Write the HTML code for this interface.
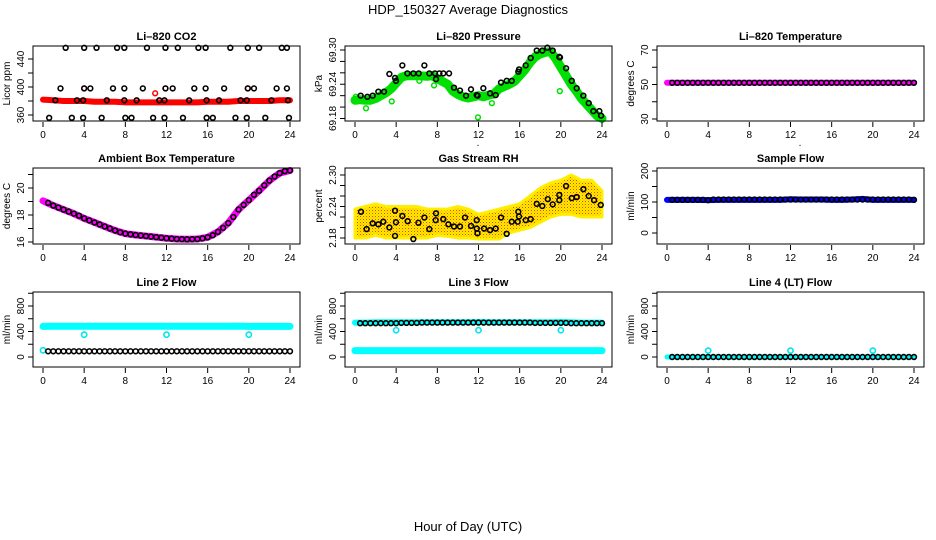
<!DOCTYPE html>
<html><head><meta charset="utf-8"><title>HDP_150327 Average Diagnostics</title>
<style>
html,body{margin:0;padding:0;background:#fff;}
svg{display:block;font-family:"Liberation Sans",Arial,sans-serif;}
</style></head>
<body>
<svg id="chart" width="936" height="540" viewBox="0 0 936 540" xmlns="http://www.w3.org/2000/svg">
<defs>
<pattern id="rhpat" width="3" height="3" patternUnits="userSpaceOnUse">
<rect width="3" height="3" fill="#ffee00"/>
<rect x="0" y="0" width="1" height="1" fill="#ff3a00"/>
<rect x="1.5" y="1.5" width="1" height="1" fill="#ff8a00"/>
</pattern>
</defs>
<text x="468" y="14" font-size="13" text-anchor="middle">HDP_150327  Average Diagnostics</text>
<text x="468" y="531" font-size="13" text-anchor="middle">Hour of Day (UTC)</text>
</svg>
<script>
// ---------- data ----------
const xTicks = [0,4,8,12,16,20,24];
const hours = [0,1,2,3,4,5,6,7,8,9,10,11,12,13,14,15,16,17,18,19,20,21,22,23,24];
const halfHours = [0.5,1,1.5,2,2.5,3,3.5,4,4.5,5,5.5,6,6.5,7,7.5,8,8.5,9,9.5,10,10.5,11,11.5,12,12.5,13,13.5,14,14.5,15,15.5,16,16.5,17,17.5,18,18.5,19,19.5,20,20.5,21,21.5,22,22.5,23,23.5,24];

// Li-820 CO2
const co2Band = [382,381,380,380,380,379,379,379,378,378,378,378,378,378,378,378,379,379,379,380,380,380,380,381,381];
const co2RedX = [4.0,11.9,19.9,10.9];
const co2RedY = [398,398,398,391];
const co2BlackX = [2.2,4.0,5.2,7.2,7.9,10.1,11.9,13.1,15.1,15.8,18.2,19.9,21.0,23.2,23.7,
  1.7,4.0,4.6,6.8,7.9,9.7,11.9,12.6,14.7,15.8,17.6,19.9,20.5,22.7,23.7,
  1.2,3.3,3.9,6.2,7.9,9.1,11.3,11.8,14.2,15.9,17.1,19.2,19.8,22.2,23.8,
  0.6,2.8,3.9,5.7,8.0,8.6,10.7,11.8,13.6,15.9,16.5,18.7,19.8,21.6,23.9];
const co2BlackY = [456,456,456,456,456,456,456,456,456,456,456,456,456,456,456,
  398,398,398,398,398,398,398,398,398,398,398,398,398,398,398,
  381,381,381,381,381,381,381,381,381,381,381,381,381,381,381,
  356,356,356,356,356,356,356,356,356,356,356,356,356,356,356];
const co2Ticks = [360,380,400,420,440];
const co2Labels = ["360","400","440"];

// Li-820 Pressure
const prGreenX = [0,0.5,1,1.5,2,2.5,3,3.5,4,4.5,5,6,7,7.5,8,8.5,9,9.5,10,10.5,11,11.5,12,12.5,13,13.5,14,14.5,15,15.5,16,16.5,17,17.5,18,18.5,19,19.5,20,20.5,21,21.5,22,22.5,23,23.5,24];
const prGreenY = [69.212,69.213,69.212,69.212,69.215,69.220,69.225,69.232,69.242,69.252,69.255,69.255,69.254,69.255,69.250,69.245,69.240,69.228,69.222,69.218,69.216,69.218,69.220,69.218,69.221,69.223,69.232,69.236,69.240,69.245,69.255,69.265,69.278,69.288,69.293,69.296,69.297,69.285,69.270,69.255,69.240,69.228,69.215,69.205,69.195,69.185,69.180];
const prGreenOutX = [3.57,6.25,7.68,11.95,13.3,19.9,0.07,1.07];
const prGreenOutY = [69.210,69.246,69.238,69.182,69.207,69.228,69.218,69.198];
const prBlackX = [0.55,1.20,1.72,2.27,2.82,3.34,3.89,3.98,4.60,5.09,5.67,6.19,6.74,7.22,7.77,7.87,8.20,8.58,9.14,9.62,10.20,10.79,11.27,11.83,11.92,12.47,13.12,13.67,14.19,14.74,15.23,15.87,15.94,16.59,17.07,17.66,18.20,18.69,19.21,19.85,19.92,20.51,21.06,21.54,22.19,22.71,23.16,23.74,23.91];
const prBlackY = [69.220,69.218,69.220,69.227,69.227,69.258,69.251,69.246,69.273,69.259,69.259,69.259,69.273,69.259,69.259,69.249,69.259,69.259,69.259,69.234,69.229,69.220,69.231,69.221,69.220,69.233,69.224,69.221,69.243,69.246,69.246,69.262,69.266,69.273,69.286,69.299,69.299,69.304,69.299,69.288,69.287,69.268,69.246,69.233,69.220,69.207,69.193,69.193,69.185];
const prTicks = [69.18,69.20,69.22,69.24,69.26,69.28,69.30];
const prLabels = ["69.18","69.24","69.30"];

// Li-820 Temperature
const ltBand = [51,51,51,51,51,51,51,51,51,51,51,51,51,51,51,51,51,51,51,51,51,51,51,51,51];
const ltBlack = [51,51,51,51,51,51,51,51,51,51,51,51,51,51,51,51,51,51,51,51,51,51,51,51,51,51,51,51,51,51,51,51,51,51,51,51,51,51,51,51,51,51,51,51,51,51,51,51];
const ltTicks = [30,40,50,60,70];
const ltLabels = ["30","50","70"];

// Ambient Box Temperature
const abBand = [19.05,18.7,18.4,18.1,17.75,17.45,17.15,16.85,16.62,16.52,16.44,16.36,16.28,16.22,16.2,16.22,16.35,16.75,17.4,18.4,19.1,19.8,20.55,21.1,21.3];
const abBlack = [18.9,18.7,18.55,18.4,18.25,18.1,17.95,17.75,17.6,17.45,17.3,17.15,17.0,16.85,16.72,16.62,16.57,16.52,16.48,16.44,16.4,16.36,16.32,16.28,16.25,16.22,16.21,16.2,16.21,16.22,16.27,16.35,16.5,16.75,17.05,17.4,17.85,18.4,18.75,19.1,19.5,19.8,20.2,20.55,20.85,21.1,21.25,21.3];
const abTicks = [16,17,18,19,20,21];
const abLabels = ["16","18","20"];

// Gas Stream RH
const rhUpper = [2.235,2.24,2.245,2.24,2.24,2.24,2.24,2.235,2.235,2.235,2.24,2.235,2.225,2.23,2.235,2.24,2.245,2.26,2.275,2.285,2.29,2.30,2.29,2.29,2.27];
const rhLower = [2.18,2.18,2.185,2.18,2.18,2.18,2.18,2.18,2.185,2.183,2.18,2.18,2.178,2.178,2.178,2.19,2.195,2.20,2.21,2.22,2.225,2.225,2.22,2.22,2.22];
const rhBlackX = [0.58,1.13,1.72,2.27,2.75,3.34,3.89,3.89,3.98,4.60,5.12,5.67,6.16,6.74,7.22,7.84,7.87,8.58,9.07,9.62,10.20,10.69,11.27,11.83,11.83,11.9,12.54,13.12,13.67,14.19,14.74,15.23,15.81,15.87,15.94,16.59,17.07,17.66,18.20,18.73,19.21,19.85,19.85,20.51,21.06,21.54,22.19,22.71,23.23,23.88];
const rhBlackY = [2.230,2.197,2.208,2.206,2.211,2.200,2.184,2.232,2.210,2.222,2.212,2.178,2.209,2.219,2.197,2.214,2.227,2.216,2.206,2.202,2.202,2.219,2.203,2.214,2.198,2.189,2.198,2.195,2.198,2.219,2.188,2.211,2.211,2.230,2.221,2.214,2.216,2.245,2.241,2.254,2.244,2.262,2.252,2.279,2.256,2.258,2.273,2.260,2.252,2.243];
const rhTicks = [2.18,2.20,2.22,2.24,2.26,2.28,2.30];
const rhLabels = ["2.18","2.24","2.30"];

// Sample Flow
const sfBand = [107,107,107,107,106,107,107,107,107,107,107,107,109,108,108,108,107,107,108,110,107,107,107,107,107];
const sfBlack = [107,107,107,107,107,107,107,106,108,108,108,108,108,108,108,108,108,108,108,108,108,108,108,108,108,108,108,108,108,108,108,108,108,108,108,108,108,108,108,108,108,108,108,108,108,108,108,107];
const sfTicks = [0,50,100,150,200];
const sfLabels = ["0","100","200"];

// Line flows
const flowTicks = [0,200,400,600,800,1000];
const flowLabels = ["0","400","800"];
const l2Cyan = [480,482,482,482,482,482,482,482,482,482,482,482,482,482,482,482,482,482,482,485,480,480,480,480,480];
const l2Black = [90,90,90,90,90,90,90,90,90,90,90,90,90,90,90,90,90,90,90,90,90,90,90,90,90,90,90,90,90,90,90,90,90,90,90,90,90,90,90,90,90,90,90,90,90,90,90,90];
const l2OutX = [0,4,12,20];
const l2OutY = [105,350,350,350];
const l3CyanLow = [100,100,100,100,100,100,100,100,100,100,100,100,100,100,100,100,100,100,100,100,100,100,100,100,100];
const l3CyanHigh = [540,540,545,545,545,545,545,545,545,545,545,545,550,545,545,545,545,545,545,545,550,545,540,540,540];
const l3Black = [530,530,530,530,530,530,530,530,535,535,535,535,540,540,540,540,540,540,540,540,540,540,540,540,540,540,540,540,540,540,540,540,540,540,535,535,535,535,535,535,535,530,530,530,530,530,530,530];
const l3OutX = [4,12,20];
const l3OutY = [420,420,420];
const l4Cyan = [0,0,0,0,0,0,0,0,0,0,0,0,0,0,0,0,0,0,0,0,0,0,0,0,0];
const l4Black = [0,0,0,0,0,0,0,0,0,0,0,0,0,0,0,0,0,0,0,0,0,0,0,0,0,0,0,0,0,0,0,0,0,0,0,0,0,0,0,0,0,0,0,0,0,0,0,0];
const l4OutX = [4,12,20];
const l4OutY = [100,100,100];

// ---------- drawing ----------
const NS = "http://www.w3.org/2000/svg";
const svg = document.getElementById("chart");
const COLS = [{L:33,R:300,x0:43,x24:290},{L:345,R:612,x0:355,x24:602},{L:657,R:924,x0:667,x24:914}];
const ROWS = [{T:46,B:121},{T:168,B:244},{T:292,B:367}];

function mk(tag, attrs, parent, text){
  const e = document.createElementNS(NS, tag);
  for (const k in attrs) e.setAttribute(k, attrs[k]);
  if (text !== undefined) e.textContent = text;
  parent.appendChild(e);
  return e;
}

function panel(ci, ri, slug, title, ytitle, ticks, labels, va, pa, vb, pb){
  const c = COLS[ci], r = ROWS[ri];
  const X = h => c.x0 + (c.x24 - c.x0) * h / 24;
  const Y = v => pa + (v - va) * (pb - pa) / (vb - va);
  const g = mk('g', {}, svg);
  
  
  const t = mk('text', {x:(c.L + c.R) / 2, y:r.T - 6, 'font-size':11, 'font-weight':'bold', 'text-anchor':'middle'}, g, title);
  
  
  const yt = mk('text', {x:0, y:0, 'font-size':10, 'text-anchor':'middle', transform:'translate(' + (c.L - 23) + ',' + ((r.T + r.B) / 2) + ') rotate(-90)'}, g, ytitle);
  
  
  const plot = mk('g', {}, g);
  
  
  const yax = mk('g', {}, g);
  
  
  ticks.forEach(v => {
    const py = Y(v);
    if (py < r.T - 1.5 || py > r.B + 1.5) return;
    mk('line', {x1:c.L - 5, x2:c.L, y1:py, y2:py, stroke:'#000', 'stroke-width':1}, yax);
  });
  labels.forEach(s => {
    const py = Y(parseFloat(s));
    const lt = mk('text', {x:0, y:0, 'font-size':10, 'text-anchor':'middle', transform:'translate(' + (c.L - 9) + ',' + py + ') rotate(-90)'}, yax, s);
    
    
  });
  const xax = mk('g', {}, g);
  
  
  xTicks.forEach(h => {
    mk('line', {x1:X(h), x2:X(h), y1:r.B + 1, y2:r.B + 6, stroke:'#000', 'stroke-width':1}, xax);
    const lt = mk('text', {x:X(h), y:r.B + 17, 'font-size':10, 'text-anchor':'middle'}, xax, String(h));
    
    
  });
  const box = mk('rect', {x:c.L, y:r.T, width:c.R - c.L, height:r.B - r.T, fill:'none', stroke:'#000', 'stroke-width':1}, g);
  
  
  return {X, Y, plot};
}

function band(p, xs, ys, color, width, name){
  const pts = xs.map((h, i) => p.X(h) + ',' + p.Y(ys[i])).join(' ');
  const pl = mk('polyline', {points:pts, fill:'none', stroke:color, 'stroke-width':width, 'stroke-linecap':'round', 'stroke-linejoin':'round'}, p.plot);
  
  
}

function dots(p, xs, ys, color, r, sw, name){
  const grp = mk('g', {}, p.plot);
  
  
  xs.forEach((h, i) => {
    const c = mk('circle', {cx:p.X(h), cy:p.Y(ys[i]), r:r, fill:'none', stroke:color, 'stroke-width':sw}, grp);
    
    
  });
}

// Panel 1: CO2
let p = panel(0, 0, 'co2', 'Li\u2013820 CO2', 'Licor ppm', co2Ticks, co2Labels, 360, 115, 440, 59);
band(p, hours, co2Band, '#ff0000', 6, 'co2-red-series');
dots(p, co2RedX, co2RedY, '#ff0000', 2.4, 1.5, 'co2-red-outliers');
dots(p, co2BlackX, co2BlackY, '#000', 2.4, 1.6, 'co2-black-series');

// Panel 2: Pressure
p = panel(1, 0, 'pressure', 'Li\u2013820 Pressure', 'kPa', prTicks, prLabels, 69.30, 50, 69.18, 118.5);
band(p, prGreenX, prGreenY, '#00e000', 9, 'pressure-green-series');
dots(p, prGreenOutX, prGreenOutY, '#00e000', 2.4, 1.5, 'pressure-green-outliers');
dots(p, prBlackX, prBlackY, '#000', 2.4, 1.6, 'pressure-black-series');
let dot = mk('text', {x:478, y:146, 'font-size':10, 'text-anchor':'middle'}, svg, '.');



// Panel 3: Li-820 Temperature
p = panel(2, 0, 'li820-temp', 'Li\u2013820 Temperature', 'degrees C', ltTicks, ltLabels, 70, 50, 30, 119);
band(p, hours, ltBand, '#ff00ff', 6, 'li820-temp-magenta-series');
dots(p, halfHours, ltBlack, '#000', 2.4, 1.6, 'li820-temp-black-series');
dot = mk('text', {x:800, y:146, 'font-size':10, 'text-anchor':'middle'}, svg, '.');



// Panel 4: Ambient
p = panel(0, 1, 'ambient', 'Ambient Box Temperature', 'degrees C', abTicks, abLabels, 20, 188, 16, 242);
band(p, hours, abBand, '#ff00ff', 7, 'ambient-magenta-series');
dots(p, halfHours, abBlack, '#000', 2.4, 1.6, 'ambient-black-series');

// Panel 5: RH
p = panel(1, 1, 'rh', 'Gas Stream RH', 'percent', rhTicks, rhLabels, 2.30, 175, 2.18, 238);
{
  const up = hours.map((h, i) => p.X(h) + ',' + p.Y(rhUpper[i]));
  const lo = hours.map((h, i) => p.X(h) + ',' + p.Y(rhLower[i])).reverse();
  const poly = mk('polygon', {points:up.concat(lo).join(' '), fill:'url(#rhpat)', stroke:'#ffee00', 'stroke-width':3, 'stroke-linejoin':'round'}, p.plot);
  
  
}
dots(p, rhBlackX, rhBlackY, '#000', 2.4, 1.6, 'rh-black-series');

// Panel 6: Sample flow
p = panel(2, 1, 'sample-flow', 'Sample Flow', 'ml/min', sfTicks, sfLabels, 200, 171, 0, 233);
band(p, hours, sfBand, '#0000ff', 6, 'sample-flow-blue-series');
dots(p, halfHours, sfBlack, '#000', 2.4, 1.6, 'sample-flow-black-series');

// Panel 7: Line 2 Flow
p = panel(0, 2, 'line2-flow', 'Line 2 Flow', 'ml/min', flowTicks, flowLabels, 800, 306, 0, 357);
band(p, hours, l2Cyan, '#00ffff', 7, 'line2-cyan-series');
dots(p, l2OutX, l2OutY, '#00e5ee', 2.6, 1.6, 'line2-cyan-outliers');
dots(p, halfHours, l2Black, '#000', 2.4, 1.6, 'line2-black-series');

// Panel 8: Line 3 Flow
p = panel(1, 2, 'line3-flow', 'Line 3 Flow', 'ml/min', flowTicks, flowLabels, 800, 306, 0, 357);
band(p, hours, l3CyanLow, '#00ffff', 7, 'line3-cyan-low-series');
band(p, hours, l3CyanHigh, '#00ffff', 6, 'line3-cyan-high-series');
dots(p, l3OutX, l3OutY, '#00e5ee', 2.6, 1.6, 'line3-cyan-outliers');
dots(p, halfHours, l3Black, '#000', 2.4, 1.6, 'line3-black-series');

// Panel 9: Line 4 Flow
p = panel(2, 2, 'line4-flow', 'Line 4 (LT) Flow', 'ml/min', flowTicks, flowLabels, 800, 306, 0, 357);
band(p, hours, l4Cyan, '#00ffff', 5, 'line4-cyan-series');
dots(p, l4OutX, l4OutY, '#00e5ee', 2.6, 1.6, 'line4-cyan-outliers');
dots(p, halfHours, l4Black, '#000', 2.4, 1.6, 'line4-black-series');
</script>
</body></html>
